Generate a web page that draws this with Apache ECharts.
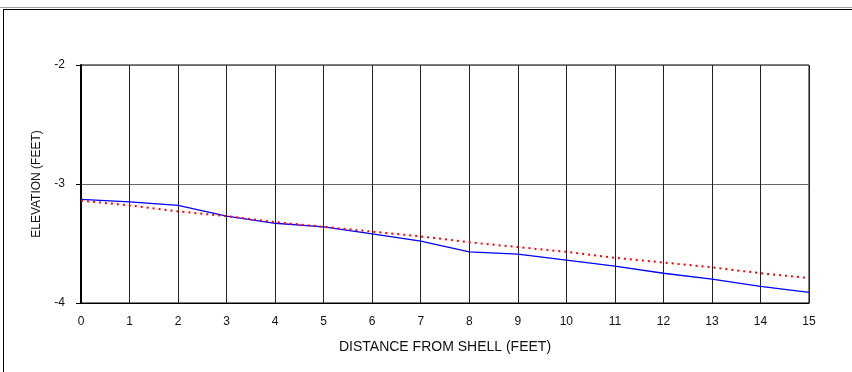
<!DOCTYPE html>
<html>
<head>
<meta charset="utf-8">
<script src="https://cdn.jsdelivr.net/npm/echarts@6/dist/echarts.min.js"></script>
<style>
html,body{margin:0;padding:0;background:#fff;overflow:hidden;}
#topline{position:absolute;left:0;top:7px;width:852px;height:1px;background:#a0a0a0;}
#frame{position:absolute;left:3px;top:9px;width:900px;height:400px;border:1px solid #000;box-sizing:border-box;}
#chart{position:absolute;left:0;top:0;width:852px;height:372px;}
</style>
</head>
<body>
<div id="topline"></div>
<div id="frame"></div>
<div id="chart"></div>
<script>
var distances = [0,1,2,3,4,5,6,7,8,9,10,11,12,13,14,15];
var elevation = [-3.13,-3.15,-3.18,-3.27,-3.33,-3.36,-3.42,-3.48,-3.57,-3.59,-3.64,-3.69,-3.75,-3.80,-3.86,-3.91];
var trend = [-3.14,-3.18,-3.23,-3.27,-3.32,-3.36,-3.40,-3.44,-3.49,-3.53,-3.57,-3.62,-3.66,-3.70,-3.75,-3.79];
var xTitle = 'DISTANCE FROM SHELL (FEET)';
var yTitle = 'ELEVATION (FEET)';

function pairs(xs, ys){ return xs.map(function(x,i){ return [x, ys[i]]; }); }

var chart = echarts.init(document.getElementById('chart'), null, {renderer:'canvas'});
var font = '"Liberation Sans", Arial, sans-serif';
chart.setOption({
  animation: false,
  grid: {left:81, right:43, top:65, bottom:69, show:true, borderColor:'#000', borderWidth:1, backgroundColor:'#fff'},
  xAxis: {
    type:'value', min:0, max:15, interval:1,
    name: xTitle, nameLocation:'middle', nameGap:37,
    nameTextStyle:{fontFamily:font, fontSize:14, color:'#111'},
    axisLine:{show:true, lineStyle:{color:'#000', width:1}},
    axisTick:{show:false},
    axisLabel:{fontFamily:font, fontSize:12, color:'#111', margin:13},
    splitLine:{show:true, lineStyle:{color:'#222', width:1}}
  },
  yAxis: {
    type:'value', min:-4, max:-2, interval:1,
    name: yTitle, nameLocation:'middle', nameGap:38,
    nameTextStyle:{fontFamily:font, fontSize:12, color:'#111'},
    axisLine:{show:true, onZero:false, lineStyle:{color:'#000', width:2}},
    axisTick:{show:true, length:5, lineStyle:{color:'#000'}},
    axisLabel:{fontFamily:font, fontSize:12, color:'#111', margin:16},
    splitLine:{show:true, lineStyle:{color:'#666', width:1}}
  },
  series: [
    {type:'line', data:pairs(distances, elevation), symbol:'none', lineStyle:{color:'#0000ff', width:1.3}, z:3},
    {type:'line', data:pairs(distances, trend), symbol:'none', lineStyle:{color:'#ff0000', width:2, type:[2,4]}, z:4}
  ]
});
</script>
</body>
</html>
